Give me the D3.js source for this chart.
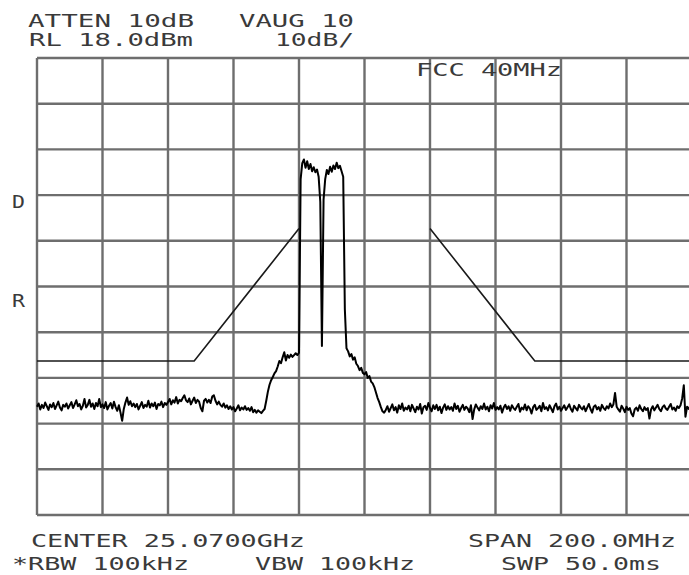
<!DOCTYPE html>
<html>
<head>
<meta charset="utf-8">
<script src="https://cdn.jsdelivr.net/npm/d3@7/dist/d3.min.js"></script>
<style>
html,body{margin:0;padding:0;background:#fff;}
svg{display:block;}
</style>
</head>
<body>
<svg id="chart" width="689" height="575"></svg>
<script>
// ---- Data ----
// Frequency offset from center (MHz), amplitude (dBm)
const centerGHz = 25.07;
const spanMHz = 200;
const refLevel = 18;      // dBm at top
const dbPerDiv = 10;
const freqTicks = [-100, -80, -60, -40, -20, 0, 20, 40, 60, 80, 100];
const levelTicks = [18, 8, -2, -12, -22, -32, -42, -52, -62, -72, -82];
const traceStep = 0.5;    // MHz between trace points, starting at -100 MHz
const traceLevels = [
-58.3,-57.6,-58.9,-57.9,-58.6,-57.4,-58.2,-59.0,-57.8,-58.4,-57.5,-58.8,-58.0,-57.2,-58.5,-59.1,-57.9,-58.3,-57.6,-58.7,
-58.0,-57.3,-58.6,-57.8,-56.9,-58.2,-57.7,-58.9,-58.1,-56.6,-58.5,-57.9,-56.8,-58.3,-57.6,-58.8,-57.5,-58.2,-56.6,-58.4,
-57.8,-58.6,-57.3,-58.9,-58.1,-57.5,-58.7,-57.2,-58.4,-59.2,-58.0,-59.6,-61.4,-58.8,-57.4,-56.3,-57.9,-57.1,-58.2,-57.6,
-58.4,-57.7,-58.9,-58.1,-57.3,-58.6,-57.9,-58.3,-57.0,-58.5,-57.6,-58.2,-57.4,-58.8,-57.7,-58.0,-57.2,-58.4,-57.5,-57.9,
-57.3,-56.6,-57.8,-56.9,-57.4,-56.2,-57.6,-56.8,-57.1,-56.4,-55.8,-56.9,-57.3,-56.5,-57.8,-57.0,-56.3,-57.5,-56.8,-57.2,
-58.6,-59.3,-57.0,-56.6,-57.4,-56.8,-57.5,-56.1,-55.8,-57.0,-57.8,-57.2,-57.9,-58.3,-57.6,-58.5,-58.0,-58.8,-58.2,-58.9,
-58.4,-59.3,-58.7,-58.0,-59.1,-58.5,-58.9,-58.2,-59.0,-58.6,-59.2,-58.4,-59.5,-59.0,-59.6,-59.1,-59.4,-59.7,-59.2,-58.8,
-57.0,-55.0,-53.5,-52.5,-51.8,-51.0,-50.5,-49.5,-48.3,-48.8,-47.5,-46.4,-48.2,-47.0,-47.6,-46.9,-47.4,-47.0,-46.6,-47.0,
-46.5,-8.5,-5.0,-4.2,-6.0,-4.6,-6.3,-5.2,-6.8,-5.9,-7.0,-6.4,-8.0,-13.5,-45.0,-13.0,-8.5,-6.5,-7.4,-5.8,
-6.9,-5.5,-6.3,-4.9,-6.1,-5.6,-6.8,-8.0,-37.0,-45.5,-46.2,-47.3,-46.8,-48.0,-47.5,-48.9,-49.4,-50.3,-49.8,-50.9,
-51.2,-50.7,-52.0,-51.6,-52.8,-53.2,-54.0,-55.2,-56.4,-57.3,-58.4,-59.3,-59.6,
-59.0,-58.2,-59.4,-58.6,-57.8,-59.1,-58.4,-59.6,-58.0,-58.8,-57.6,-59.2,-58.5,-58.9,-58.1,-59.3,-57.9,-58.7,-59.5,-58.3,
-58.9,-57.7,-59.8,-58.4,-58.1,-59.0,-57.5,-58.6,-59.3,-58.0,-58.8,-57.9,-59.1,-58.3,-59.7,-58.5,-57.8,-59.0,-58.2,-58.9,
-58.4,-59.2,-57.6,-58.8,-58.1,-59.4,-58.6,-57.9,-59.0,-58.3,-58.7,-59.5,-58.0,-61.0,-58.9,-57.8,-58.5,-59.1,-58.2,-58.8,
-57.6,-58.9,-58.3,-59.3,-58.0,-58.7,-57.5,-59.0,-58.4,-58.9,-58.1,-59.6,-58.5,-57.9,-58.8,-58.2,-59.2,-58.0,-58.6,-59.0,
-58.3,-57.7,-59.4,-58.5,-58.9,-57.8,-59.1,-58.2,-58.7,-59.8,-58.4,-57.9,-59.0,-58.6,-58.1,-59.3,-57.5,-58.8,-58.4,-59.1,
-58.0,-58.7,-59.5,-58.2,-57.6,-58.9,-58.3,-59.2,-58.6,-58.0,-59.0,-58.4,-57.8,-58.8,-59.4,-58.1,-58.6,-59.1,-57.9,-58.5,
-58.9,-58.2,-59.3,-58.5,-57.7,-58.8,-59.6,-58.3,-58.0,-58.9,-58.4,-59.2,-57.9,-58.6,-59.0,-58.2,-58.7,-57.6,-58.4,-57.8,
-55.3,-58.3,-58.9,-59.4,-58.1,-58.7,-59.5,-58.3,-59.0,-58.6,-59.8,-60.4,-58.9,-58.5,-59.2,-58.0,-58.8,-59.3,-58.4,-59.0,
-58.6,-60.9,-58.9,-58.2,-59.1,-58.5,-57.9,-58.8,-59.3,-58.4,-58.0,-58.7,-59.0,-58.3,-57.7,-58.9,-58.5,-59.2,-58.2,-58.6,
-58.0,-56.5,-53.6,-60.5,-58.3,-58.8,-58.1,-58.6
];
// FCC 40MHz limit mask (MHz offset, dBm)
const maskFreq  = [-100, -52, -20, null, 20, 52, 100];
const maskLevel = [-48.3, -48.3, -19.3, null, -19.3, -48.3, -48.3];
// Annotation texts
const headerLeft  = ["ATTEN 10dB", "RL 18.0dBm"];
const headerMid   = ["VAUG 10", "10dB/"];
const maskLabel   = "FCC 40MHz";
const sideLabels  = ["D", "R"];
const footer      = ["CENTER 25.0700GHz", "SPAN 200.0MHz", "*RBW 100kHz", "VBW 100kHz", "SWP 50.0ms"];

// ---- Drawing ----
const svg = d3.select("#chart");
const x = d3.scaleLinear().domain([-spanMHz/2, spanMHz/2]).range([37, 692]);
const y = d3.scaleLinear().domain([refLevel - 10*dbPerDiv, refLevel]).range([515, 58]);

const grid = svg.append("g").attr("stroke", "#6e6e6e").attr("stroke-width", 2.4);
grid.selectAll("line.v").data(freqTicks).join("line")
  .attr("x1", d => x(d)).attr("x2", d => x(d))
  .attr("y1", y(refLevel)).attr("y2", y(refLevel - 100));
grid.selectAll("line.h").data(levelTicks).join("line")
  .attr("x1", x(-100)).attr("x2", x(100))
  .attr("y1", d => y(d)).attr("y2", d => y(d));

// mask
const maskData = maskFreq.map((f, i) => ({f, l: maskLevel[i]}));
svg.append("path")
  .attr("d", d3.line().defined(d => d.f !== null).x(d => x(d.f)).y(d => y(d.l))(maskData))
  .attr("fill", "none").attr("stroke", "#1a1a1a").attr("stroke-width", 1.6);

// trace
const traceData = traceLevels.map((l, i) => ({f: -100 + i*traceStep, l}));
svg.append("path")
  .attr("d", d3.line().x(d => x(d.f)).y(d => y(d.l))(traceData))
  .attr("fill", "none").attr("stroke", "#000").attr("stroke-width", 2)
  .attr("stroke-linejoin", "round");

// texts
const font = "'DejaVu Sans Mono', monospace";
function txt(s, xx, yy, len) {
  svg.append("text").attr("x", xx).attr("y", yy)
    .attr("font-family", font).attr("font-size", 18).attr("fill", "#3a3a3a")
    .attr("textLength", len).attr("lengthAdjust", "spacingAndGlyphs")
    .text(s);
}
txt(headerLeft[0], 28, 27, 166);
txt(headerLeft[1], 29, 46, 164);
txt(headerMid[0], 239, 27, 115);
txt(headerMid[1], 275, 46, 79);
txt(maskLabel, 416, 76, 146);
txt(sideLabels[0], 12, 208, 13);
txt(sideLabels[1], 12, 307, 13);
txt(footer[0], 31, 547, 274);
txt(footer[1], 468, 547, 208);
txt(footer[2], 12, 570, 177);
txt(footer[3], 255, 570, 160);
txt(footer[4], 501, 570, 160);
</script>
</body>
</html>
